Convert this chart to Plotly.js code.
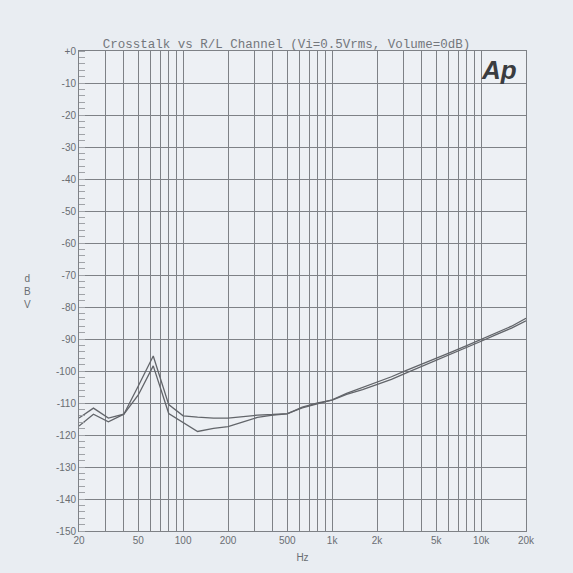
<!DOCTYPE html>
<html>
<head>
<meta charset="utf-8">
<script src="https://cdn.plot.ly/plotly-3.0.1.min.js"></script>
<style>html,body{margin:0;padding:0;background:#e9edf2;}#chart{width:573px;height:573px;}</style>
</head>
<body>
<div id="chart"></div>
<script>
const freqs = [20, 25, 31.5, 40, 50, 63, 80, 100, 125, 160, 200, 250, 315, 400, 500, 630, 800, 1000, 1250, 1600, 2000, 2500, 3150, 4000, 5000, 6300, 8000, 10000, 12500, 16000, 20000];
const channelA = [-114.7, -111.6, -114.7, -113.5, -104.7, -95.3, -110.5, -114.0, -114.4, -114.7, -114.7, -114.2, -113.8, -113.6, -113.3, -111.5, -110.3, -109.0, -107.0, -105.2, -103.5, -101.8, -99.8, -97.9, -96.0, -94.1, -92.1, -90.1, -88.1, -86.0, -83.5];
const channelB = [-117.2, -113.5, -115.9, -113.5, -107.5, -98.4, -113.3, -116.0, -118.9, -117.9, -117.4, -116.0, -114.5, -113.8, -113.4, -111.3, -110.0, -109.1, -107.3, -105.8, -104.3, -102.6, -100.6, -98.6, -96.7, -94.7, -92.6, -90.7, -88.7, -86.6, -84.3];

const xGrid = [20,30,40,50,60,70,80,90,100,200,300,400,500,600,700,800,900,1000,2000,3000,4000,5000,6000,7000,8000,9000,10000,20000];
const xLabels = {20:'20',50:'50',100:'100',200:'200',500:'500',1000:'1k',2000:'2k',5000:'5k',10000:'10k',20000:'20k'};
const yTicks = [0,-10,-20,-30,-40,-50,-60,-70,-80,-90,-100,-110,-120,-130,-140,-150];
const yLabels = ['+0','-10','-20','-30','-40','-50','-60','-70','-80','-90','-100','-110','-120','-130','-140','-150'];

const lineStyle = {color:'#62656a', width:1.3};
const traces = [
  {x:freqs, y:channelA, type:'scatter', mode:'lines', line:lineStyle, hoverinfo:'skip'},
  {x:freqs, y:channelB, type:'scatter', mode:'lines', line:lineStyle, hoverinfo:'skip'}
];

const tickFont = {family:'Liberation Sans, Arial, sans-serif', size:10, color:'#6a6d72'};
const layout = {
  width:573, height:573,
  margin:{l:79, r:47, t:51, b:42},
  paper_bgcolor:'#e9edf2',
  plot_bgcolor:'#edf0f4',
  showlegend:false,
  title:{text:'Crosstalk vs R/L Channel (Vi=0.5Vrms, Volume=0dB)', font:{family:'Liberation Mono, Courier New, monospace', size:12.5, color:'#74777c'}, x:0.5, xanchor:'center', y:0.917, yanchor:'bottom'},
  xaxis:{type:'log', range:[Math.log10(20), Math.log10(20000)], tickvals:xGrid, ticktext:xGrid.map(v=>xLabels[v]||''),
    showgrid:true, gridcolor:'#7e8186', gridwidth:1, ticks:'', tickfont:tickFont, showline:true, linecolor:'#7e8186', mirror:true, zeroline:false,
    title:{text:'Hz', font:{family:'Liberation Sans, Arial, sans-serif', size:10, color:'#6a6d72'}, standoff:8}},
  yaxis:{range:[-150,0], tickvals:yTicks, ticktext:yLabels, showgrid:true, gridcolor:'#7e8186', gridwidth:1, ticks:'', tickfont:tickFont,
    showline:true, linecolor:'#7e8186', mirror:true, zeroline:false,
    minor:{dtick:2, ticks:'inside', ticklen:6, tickcolor:'#a0a3a8', showgrid:false}},
  annotations:[
    {text:'<i><b>Ap</b></i>', xref:'paper', yref:'paper', x:0.985, y:0.995, xanchor:'right', yanchor:'top', showarrow:false, font:{family:'Liberation Sans, Arial, sans-serif', size:26, color:'#3a3c40'}},
    {text:'d<br>B<br>V', xref:'paper', yref:'paper', x:-0.115, y:0.5, xanchor:'center', yanchor:'middle', showarrow:false, font:{family:'Liberation Sans, Arial, sans-serif', size:10, color:'#6a6d72'}}
  ]
};
Plotly.newPlot('chart', traces, layout, {staticPlot:true, displayModeBar:false});
</script>
</body>
</html>
